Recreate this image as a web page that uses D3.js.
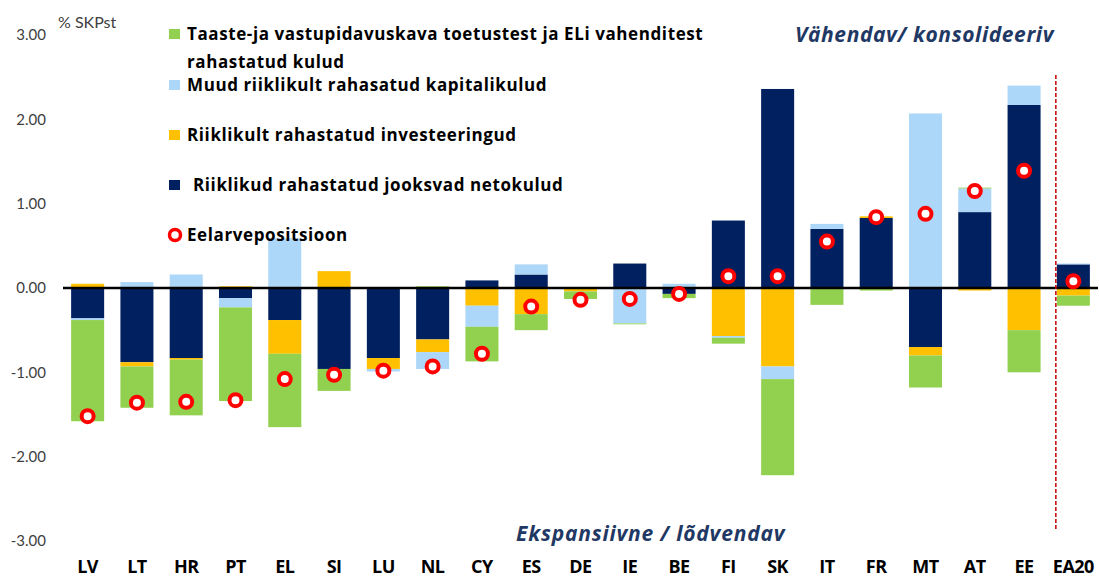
<!DOCTYPE html>
<html>
<head>
<meta charset="utf-8">
<script src="https://cdn.jsdelivr.net/npm/d3@7"></script>
<style>
  body { margin:0; background:#fff; }
  svg text { font-family: "Open Sans", "Noto Sans", sans-serif; }
</style>
</head>
<body>
<svg id="chart" width="1099" height="580"></svg>
<script>
// riigid
var countries = ["LV","LT","HR","PT","EL","SI","LU","NL","CY","ES","DE","IE","BE","FI","SK","IT","FR","MT","AT","EE","EA20"];
// Riiklikud rahastatud jooksvad netokulud
var jooksvad  = [-0.36,-0.88,-0.83,-0.12,-0.38,-0.96,-0.83,-0.61, 0.09, 0.16, 0.00, 0.29,-0.07, 0.80, 2.36, 0.70, 0.83,-0.70, 0.90, 2.17, 0.28];
// Riiklikult rahastatud investeeringud
var invest    = [ 0.05,-0.05,-0.02, 0.02,-0.40, 0.20,-0.13,-0.15,-0.21,-0.31,-0.04, 0.00, 0.00,-0.57,-0.93, 0.00, 0.02,-0.10,-0.03,-0.50,-0.09];
// Muud riiklikult rahasatud kapitalikulud
var muud      = [-0.02, 0.07, 0.16,-0.11, 0.59, 0.00,-0.03,-0.20,-0.25, 0.12, 0.00,-0.42, 0.05,-0.02,-0.15, 0.06, 0.00, 2.07, 0.28, 0.23, 0.01];
// Taaste-ja vastupidavuskava toetustest ja ELi vahenditest rahastatud kulud
var taaste    = [-1.20,-0.49,-0.66,-1.11,-0.87,-0.26, 0.00, 0.02,-0.41,-0.19,-0.09,-0.01,-0.05,-0.07,-1.14,-0.20,-0.03,-0.38, 0.01,-0.50,-0.12];
// Eelarvepositsioon
var eelarve   = [-1.52,-1.36,-1.35,-1.33,-1.08,-1.03,-0.98,-0.93,-0.78,-0.22,-0.14,-0.13,-0.07, 0.14, 0.14, 0.55, 0.84, 0.88, 1.15, 1.39, 0.08];
var yTicks = [-3,-2,-1,0,1,2,3];

var color = {jooksvad:"#002060", invest:"#FFC000", muud:"#ADD7F8", taaste:"#92D050", red:"#FF0000"};

var svg = d3.select("#chart");

var x = d3.scaleBand().domain(countries).range([63,1098]).paddingInner(0.33).paddingOuter(0.165);
var y = d3.scaleLinear().domain([-3,3]).range([541,35]);

var rows = countries.map(function(c,i){
  return {c:c, jooksvad:jooksvad[i], invest:invest[i], muud:muud[i], taaste:taaste[i]};
});
var keys = ["jooksvad","invest","muud","taaste"];
var series = d3.stack().keys(keys).offset(d3.stackOffsetDiverging)(rows);

// tulbad
svg.append("g").selectAll("g")
  .data(series)
  .join("g")
    .attr("fill", function(s){ return color[s.key]; })
  .selectAll("rect")
  .data(function(s){ return s; })
  .join("rect")
    .attr("x", function(d){ return x(d.data.c); })
    .attr("width", x.bandwidth())
    .attr("y", function(d){ return y(Math.max(d[0],d[1])); })
    .attr("height", function(d){ return Math.abs(y(d[0])-y(d[1])); });

// nulljoon
svg.append("line")
  .attr("x1", x.range()[0]).attr("x2", x.range()[1])
  .attr("y1", y(0)).attr("y2", y(0))
  .attr("stroke","#000").attr("stroke-width",2.5);

// EA20 eraldusjoon
svg.append("line")
  .attr("x1", x("EA20")-1).attr("x2", x("EA20")-1)
  .attr("y1", 75).attr("y2", 531)
  .attr("stroke","#C00000").attr("stroke-width",1.5)
  .attr("stroke-dasharray","4,2");

// eelarvepositsioon
svg.append("g").selectAll("circle")
  .data(eelarve)
  .join("circle")
    .attr("cx", function(d,i){ return x(countries[i]) + x.bandwidth()/2; })
    .attr("cy", function(d){ return y(d); })
    .attr("r", 6)
    .attr("fill","#fff")
    .attr("stroke", color.red)
    .attr("stroke-width", 4);

// y telg
var yAxis = svg.append("g")
  .attr("transform","translate(46,0)")
  .call(d3.axisLeft(y).tickValues(yTicks).tickSize(0).tickPadding(0)
    .tickFormat(function(d){ return d3.format(".2f")(d).replace("−","-"); }));
yAxis.select(".domain").remove();
yAxis.selectAll("text").attr("font-size",15).attr("fill","#404040")
  .style("font-family","Lato, sans-serif");

// x telg
var xAxis = svg.append("g")
  .attr("transform","translate(0,557)")
  .call(d3.axisBottom(x).tickSize(0));
xAxis.select(".domain").remove();
xAxis.selectAll("text").attr("font-size",18).attr("font-weight","bold").attr("fill","#000")
  .style("font-family","'Open Sans', sans-serif").style("letter-spacing","-0.5px");

svg.append("text").attr("x",58).attr("y",28).attr("font-size",16).attr("fill","#404040")
  .style("font-family","Lato, sans-serif").text("% SKPst");

// legend
var legend = [
  {key:"taaste", y:34, lines:["Taaste-ja vastupidavuskava toetustest ja ELi vahenditest","rahastatud kulud"]},
  {key:"muud", y:85, lines:["Muud riiklikult rahasatud kapitalikulud"]},
  {key:"invest", y:135, lines:["Riiklikult rahastatud investeeringud"]},
  {key:"jooksvad", y:185, lines:["Riiklikud rahastatud jooksvad netokulud"], dx:6}
];
legend.forEach(function(l){
  svg.append("rect").attr("x",169).attr("y",l.y-5).attr("width",11).attr("height",10).attr("fill",color[l.key]);
  l.lines.forEach(function(t,k){
    svg.append("text").attr("x",187+(l.dx||0)).attr("y",l.y+6+k*28)
      .attr("font-size",17).attr("font-weight","bold").style("letter-spacing","0.6px")
      .attr("fill","#000").text(t);
  });
});
svg.append("circle").attr("cx",175).attr("cy",235).attr("r",5.5)
  .attr("fill","#fff").attr("stroke",color.red).attr("stroke-width",3.5);
svg.append("text").attr("x",187).attr("y",241).attr("font-size",17).attr("font-weight","bold")
  .style("letter-spacing","0.6px").text("Eelarvepositsioon");

// suunasildid
svg.append("text").attr("x",795).attr("y",42).attr("font-size",21).attr("font-weight","bold")
  .attr("font-style","italic").attr("fill","#1F3864").style("letter-spacing","0.6px").text("Vähendav/ konsolideeriv");
svg.append("text").attr("x",516).attr("y",541).attr("font-size",21).attr("font-weight","bold")
  .attr("font-style","italic").attr("fill","#1F3864").style("letter-spacing","0.8px").text("Ekspansiivne  /  lõdvendav");
</script>
</body>
</html>
